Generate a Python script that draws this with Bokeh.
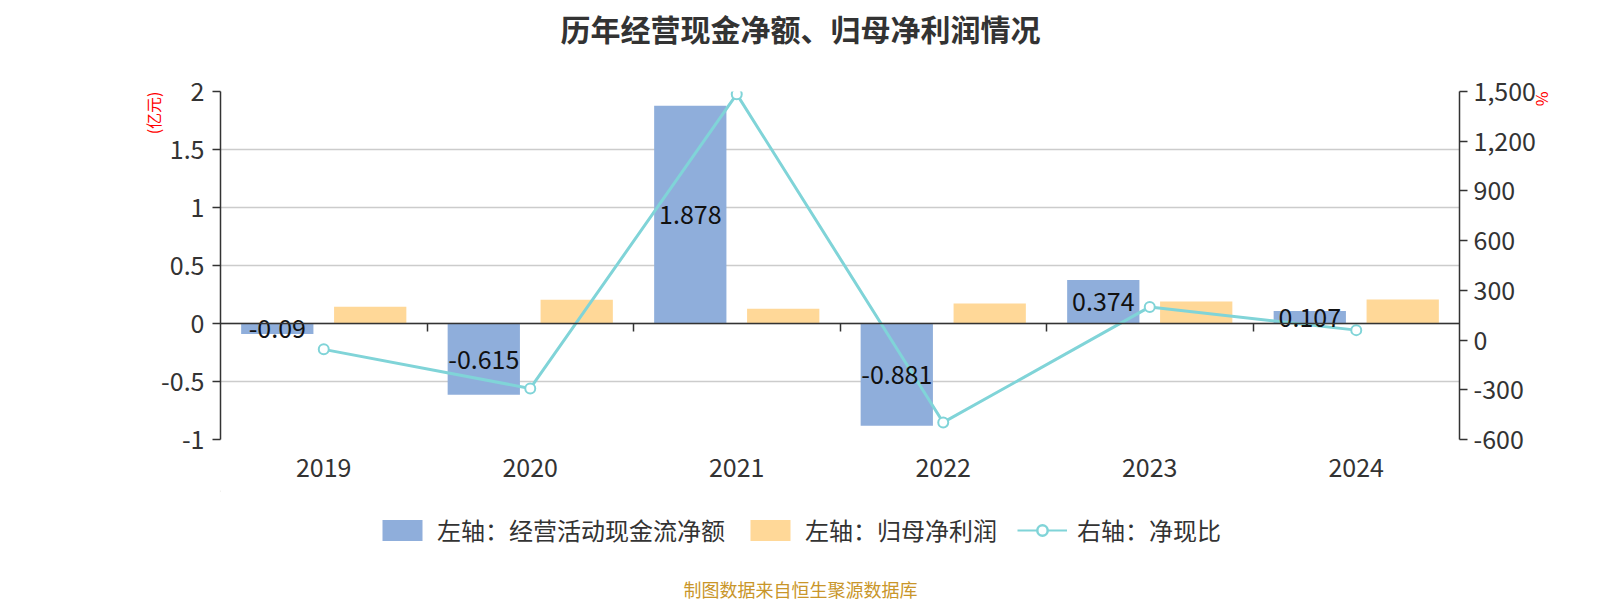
from bokeh.plotting import figure
from bokeh.models import (Range1d, LinearAxis, FixedTicker, CustomJSTickFormatter,
                          NumeralTickFormatter, Legend, LegendItem, Title, ColumnDataSource,
                          Label)
from bokeh.layouts import column
from bokeh.transform import dodge
from bokeh.embed import file_html
from bokeh.resources import INLINE

years = ["2019", "2020", "2021", "2022", "2023", "2024"]
cash_flow = [-0.09, -0.615, 1.878, -0.881, 0.374, 0.107]
net_profit = [0.144, 0.204, 0.127, 0.172, 0.19, 0.207]
cash_ratio = [-56, -292, 1484, -497, 200, 60]
left_ticks = [-1, -0.5, 0, 0.5, 1, 1.5, 2]
right_ticks = [-600, -300, 0, 300, 600, 900, 1200, 1500]
series_names = ["左轴：经营活动现金流净额", "左轴：归母净利润", "右轴：净现比"]
chart_title = "历年经营现金净额、归母净利润情况"
source_note = "制图数据来自恒生聚源数据库"

FONT = "Noto Sans CJK SC"
BLUE = "#8FAEDB"
ORANGE = "#FFD898"
TEAL = "#80D4D8"
TXT = "#333333"

n = len(years)
centers = [i + 0.5 for i in range(n)]

src = ColumnDataSource(dict(
    xc=centers,
    cash=cash_flow,
    profit=net_profit,
    ratio=cash_ratio,
    mid=[v / 2 for v in cash_flow],
    lbl=[str(v) for v in cash_flow],
))

# header strip with the title
hd = figure(width=1600, height=50, x_range=Range1d(220, 1459), y_range=Range1d(50, 0),
            output_backend="svg", toolbar_location=None, min_border=0,
            x_axis_location=None, y_axis_location=None)
hd.outline_line_color = None
hd.grid.visible = False
hd.add_layout(Label(x=800, y=27, text=chart_title, text_align="center",
                    text_baseline="middle", text_font=FONT, text_font_size="30px",
                    text_font_style="bold", text_color=TXT))

p = figure(width=1600, height=440, x_range=Range1d(0, n),
           y_range=Range1d(-1, 2), output_backend="svg", toolbar_location=None,
           min_border_left=220, min_border_right=141, min_border_top=41,
           min_border_bottom=51)
p.outline_line_color = None
p.extra_y_ranges = {"pct": Range1d(-600, 1500)}

p.xgrid.visible = False
p.ygrid.ticker = FixedTicker(ticks=left_ticks)
p.ygrid.grid_line_color = "#cccccc"
p.ygrid.grid_line_width = 1.5

xa = p.xaxis[0]
xa.ticker = FixedTicker(ticks=centers)
xa.formatter = CustomJSTickFormatter(args=dict(years=years),
                                     code="return years[Math.floor(tick)]")
xa.axis_line_color = None
xa.major_tick_line_color = None
xa.minor_tick_line_color = None
xa.major_label_text_font = FONT
xa.major_label_text_font_size = "25px"
xa.major_label_text_color = TXT
xa.major_label_standoff = 12

ya = p.yaxis[0]
ya.ticker = FixedTicker(ticks=left_ticks)
ya.formatter = CustomJSTickFormatter(code="return tick.toString()")
ya.axis_line_color = TXT
ya.axis_line_width = 1.5
ya.major_tick_line_color = TXT
ya.major_tick_line_width = 1.5
ya.major_tick_out = 8
ya.major_tick_in = 0
ya.minor_tick_line_color = None
ya.major_label_text_font = FONT
ya.major_label_text_font_size = "25px"
ya.major_label_text_color = TXT
ya.major_label_standoff = 8

ra = LinearAxis(y_range_name="pct", ticker=FixedTicker(ticks=right_ticks),
                formatter=NumeralTickFormatter(format="0,0"))
ra.axis_line_color = TXT
ra.axis_line_width = 1.5
ra.major_tick_line_color = TXT
ra.major_tick_line_width = 1.5
ra.major_tick_out = 8
ra.major_tick_in = 0
ra.minor_tick_line_color = None
ra.major_label_text_font = FONT
ra.major_label_text_font_size = "25px"
ra.major_label_text_color = TXT
ra.major_label_standoff = 6
p.add_layout(ra, "right")

za = LinearAxis(ticker=FixedTicker(ticks=list(range(1, n))), fixed_location=0)
za.axis_line_color = TXT
za.axis_line_width = 1.5
za.major_tick_line_color = TXT
za.major_tick_line_width = 1.5
za.major_tick_out = 8
za.major_tick_in = 0
za.minor_tick_line_color = None
za.major_label_text_color = None
za.major_label_text_font_size = "1px"
p.add_layout(za, "below")

p.vbar(x=dodge("xc", -0.225), top="cash", bottom=0, width=0.35,
       source=src, fill_color=BLUE, line_color=None)
p.vbar(x=dodge("xc", 0.225), top="profit", bottom=0, width=0.35,
       source=src, fill_color=ORANGE, line_color=None)

p.line(x="xc", y="ratio", source=src, y_range_name="pct",
       line_color=TEAL, line_width=3)
p.scatter(x="xc", y="ratio", source=src, y_range_name="pct", size=10,
          marker="circle", fill_color="white", line_color=TEAL, line_width=2)

p.text(x=dodge("xc", -0.225), y="mid", text="lbl", source=src,
       text_align="center", text_baseline="middle", text_font_size="25px",
       text_color="#111111", text_font={"value": FONT})

unit_l = Title(text="(亿元)", align="right", text_font=FONT, text_font_size="16px",
               text_font_style="normal", text_color="red", standoff=-13)
p.add_layout(unit_l, "left")
unit_r = Title(text="%", align="left", text_font=FONT, text_font_size="16px",
               text_font_style="normal", text_color="red", standoff=-16)
p.add_layout(unit_r, "right")

# legend + footer strip
lf = figure(width=1600, height=110, x_range=Range1d(220, 1459), y_range=Range1d(110, 0),
            output_backend="svg", toolbar_location=None, min_border=0,
            x_axis_location=None, y_axis_location=None)
lf.outline_line_color = None
lf.grid.visible = False

# off-screen proxies so that the legend can draw its swatches
r1 = lf.vbar(x=[-10000], top=[1], width=1, fill_color=BLUE, line_color=None)
r2 = lf.vbar(x=[-10000], top=[1], width=1, fill_color=ORANGE, line_color=None)
r3 = lf.line(x=[-10000, -9990], y=[0, 0], line_color=TEAL, line_width=2)
r4 = lf.scatter(x=[-10000], y=[0], size=20, marker="circle", fill_color="white",
                line_color=TEAL, line_width=2.5)

legend = Legend(items=[
    LegendItem(label=series_names[0], renderers=[r1]),
    LegendItem(label=series_names[1], renderers=[r2]),
    LegendItem(label=series_names[2], renderers=[r3, r4]),
], orientation="horizontal", location=(157, 53))
legend.glyph_width = 50
legend.glyph_height = 26
legend.label_text_font = FONT
legend.label_text_font_size = "24px"
legend.label_text_color = TXT
legend.spacing = 20
legend.label_standoff = 10
legend.border_line_color = None
legend.background_fill_alpha = 0
legend.padding = 0
legend.margin = 0
lf.add_layout(legend, "center")

lf.add_layout(Label(x=800, y=98, text=source_note, text_align="center",
                    text_baseline="middle", text_font=FONT, text_font_size="18px",
                    text_color="#C9962A"))

open("out.html", "w").write(file_html(column(hd, p, lf, spacing=0), INLINE))
